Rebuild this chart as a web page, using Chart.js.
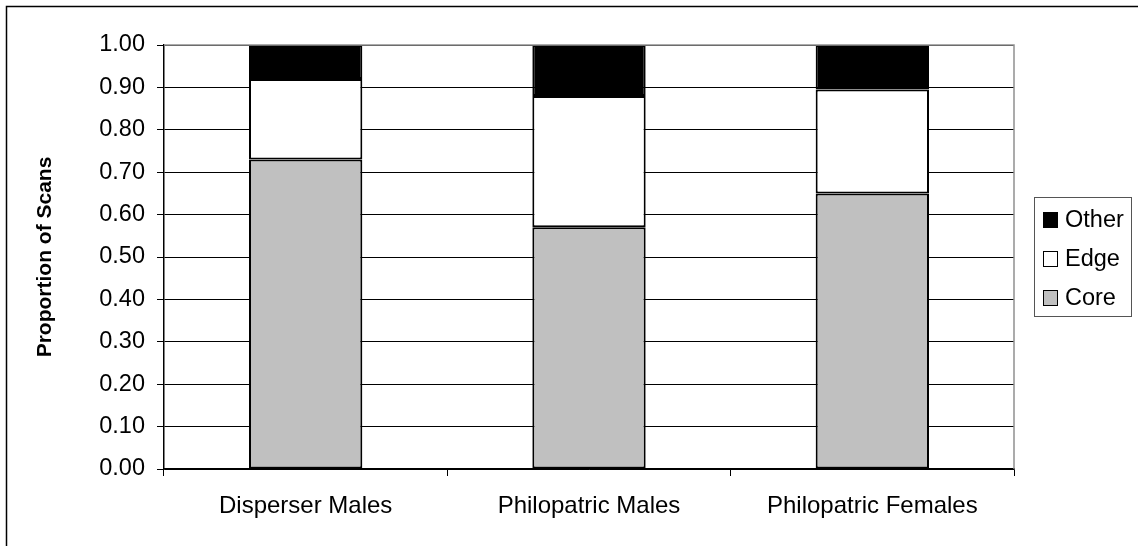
<!DOCTYPE html>
<html>
<head>
<meta charset="utf-8">
<script src="https://cdn.jsdelivr.net/npm/chart.js@4.4.1/dist/chart.umd.min.js"></script>
<style>
  html, body { margin: 0; padding: 0; background: #fff; }
  #wrap { width: 1138px; height: 546px; position: relative; }
</style>
</head>
<body>
<div id="wrap"><canvas id="barChart"></canvas></div>
<script>
const categories = ['Disperser Males', 'Philopatric Males', 'Philopatric Females'];
const coreValues = [0.73, 0.57, 0.65];
const edgeValues = [0.19, 0.31, 0.245];
const otherValues = [0.08, 0.12, 0.105];

const FONT = "'Liberation Sans', Arial, sans-serif";

// outer frame, plot border and boxed legend
const framePlugin = {
  id: 'frame',
  beforeDraw(chart) {
    const c = chart.ctx;
    c.save();
    c.fillStyle = '#fff';
    c.fillRect(0, 0, chart.width, chart.height);
    c.strokeStyle = '#000';
    c.lineWidth = 1.5;
    c.beginPath();
    c.moveTo(6.5, chart.height);
    c.lineTo(6.5, 6.5);
    c.lineTo(chart.width, 6.5);
    c.stroke();
    c.restore();
  },
  afterDatasetsDraw(chart) {
    const a = chart.chartArea;
    const c = chart.ctx;
    c.save();
    c.strokeStyle = '#909090';
    c.lineWidth = 1.5;
    c.beginPath();
    c.moveTo(a.left, a.top);
    c.lineTo(a.right, a.top);
    c.lineTo(a.right, a.bottom);
    c.stroke();
    c.restore();
  },
  afterDraw(chart) {
    const c = chart.ctx;
    c.save();
    c.strokeStyle = '#555';
    c.lineWidth = 1;
    c.strokeRect(1034.5, 197.5, 97, 119);
    const sets = chart.data.datasets.slice().reverse();
    c.font = '23.5px ' + FONT;
    c.textBaseline = 'middle';
    sets.forEach((ds, i) => {
      const y = 220 + i * 39;
      c.fillStyle = ds.backgroundColor;
      c.fillRect(1043.5, y - 7.5, 14, 15);
      c.strokeStyle = '#000';
      c.strokeRect(1043.5, y - 7.5, 14, 15);
      c.fillStyle = '#000';
      c.fillText(ds.label, 1065, y + 1);
    });
    c.restore();
  }
};

const ctx = document.getElementById('barChart');

new Chart(ctx, {
  type: 'bar',
  data: {
    labels: categories,
    datasets: [
      { label: 'Core', data: coreValues, backgroundColor: '#c0c0c0' },
      { label: 'Edge', data: edgeValues, backgroundColor: '#ffffff' },
      { label: 'Other', data: otherValues, backgroundColor: '#000000' }
    ]
  },
  options: {
    responsive: true,
    maintainAspectRatio: false,
    animation: false,
    layout: { padding: { left: 0, top: 45, right: 124, bottom: 0 } },
    datasets: {
      bar: {
        borderColor: '#000',
        borderWidth: 2,
        borderSkipped: false,
        categoryPercentage: 1,
        barPercentage: 0.4
      }
    },
    plugins: {
      legend: { display: false },
      tooltip: { enabled: false }
    },
    scales: {
      x: {
        stacked: true,
        afterFit: s => { s.height = 77; },
        grid: { drawOnChartArea: false, drawTicks: true, tickLength: 7, color: '#000', offset: true },
        border: { color: '#000', width: 1.5 },
        ticks: { color: '#000', font: { family: FONT, size: 24 }, padding: 16 }
      },
      y: {
        stacked: true,
        min: 0,
        max: 1,
        afterFit: s => { s.width = 164; },
        grid: { color: '#000', lineWidth: 1, tickLength: 7 },
        border: { color: '#000', width: 1.5 },
        ticks: {
          stepSize: 0.1,
          color: '#000',
          padding: 12,
          font: { family: FONT, size: 23.5 },
          callback: v => v.toFixed(2)
        },
        title: {
          display: true,
          text: 'Proportion of Scans',
          color: '#000',
          font: { family: FONT, size: 21, weight: 'bold' },
          padding: { top: 33, bottom: 0 }
        }
      }
    }
  },
  plugins: [framePlugin]
});
</script>
</body>
</html>
